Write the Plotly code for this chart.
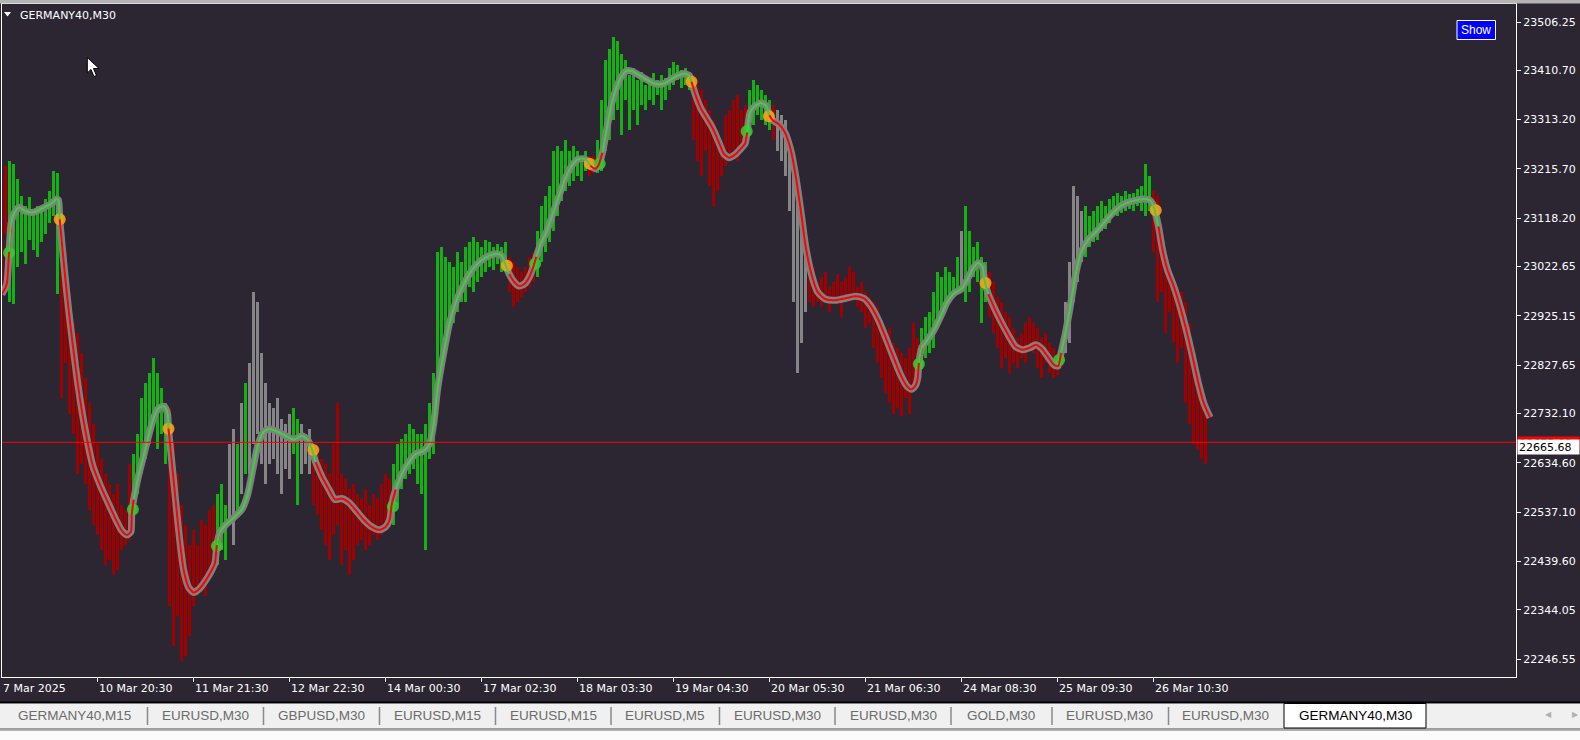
import plotly.graph_objects as go

# ---------------- DATA ----------------
symbol_title = "GERMANY40,M30"

# bar index (every second M30 bar is drawn)
bar_index = list(range(0, 604, 2))

bar_high = [
    23192, 23222, 23232, 23226, 23196, 23162, 23142, 23160, 23136, 23142,
    23132, 23156, 23172, 23212, 23208, 23102, 23052, 22972, 22912, 22892,
    22852, 22802, 22752, 22712, 22672, 22642, 22612, 22592, 22572, 22592,
    22552, 22542, 22632, 22652, 22692, 22762, 22792, 22812, 22842, 22812,
    22782, 22752, 22742, 22672, 22612, 22552, 22512, 22472, 22502, 22472,
    22522, 22512, 22542, 22552, 22572, 22592, 22552, 22672, 22702, 22672,
    22752, 22792, 22832, 22972, 22952, 22852, 22792, 22752, 22742, 22762,
    22722, 22712, 22732, 22742, 22722, 22712, 22692, 22702, 22672, 22652,
    22642, 22632, 22612, 22672, 22752, 22612, 22602, 22582, 22592, 22572,
    22562, 22582, 22552, 22572, 22562, 22592, 22612, 22602, 22632, 22672,
    22682,
    22692, 22712, 22702, 22692, 22692, 22712, 22752, 22812, 23052, 23062,
    23042, 23032, 23022, 23052, 23032, 23062, 23072, 23082, 23072, 23062,
    23076, 23072, 23062, 23068, 23062, 23072, 23042, 23032, 23022, 23012,
    23022, 23042, 23052, 23092, 23142, 23162, 23182, 23252, 23262, 23252,
    23272, 23252, 23262, 23252, 23242, 23252, 23242, 23242, 23272, 23352,
    23432, 23452, 23476, 23468, 23442, 23432, 23402, 23416, 23392, 23408,
    23382, 23396, 23406, 23392, 23402, 23396, 23416, 23428, 23422, 23412,
    23416, 23408, 23402, 23382, 23372, 23352, 23332, 23312, 23292, 23272,
    23322, 23332, 23352, 23362, 23332, 23342, 23372, 23392, 23382, 23372,
    23362, 23352, 23342, 23332, 23322, 23312, 23272, 23212, 23152, 23092,
    23052, 23032, 23022, 22992, 23002, 23012, 22982, 22992, 23008, 22992,
    23002, 23022, 23012, 22982, 22992, 22972, 22962, 22952, 22942, 22912,
    22892, 22902, 22872, 22862, 22852, 22842, 22862, 22912, 22882, 22902,
    22922,
    22932, 22972, 23012, 23002, 23022, 23012, 23002, 23042, 23092, 23142,
    23092, 23062, 23072, 23042, 23032, 23012, 22992, 22962, 22952, 22932,
    22922, 22902, 22882, 22892, 22912, 22922, 22912, 22902, 22882, 22892,
    22872, 22862, 22852, 22882, 22952, 23032, 23182, 23162, 23132, 23142,
    23122, 23132, 23142, 23152, 23142, 23156, 23162, 23168, 23162, 23172,
    23166, 23168, 23176, 23182, 23226, 23202, 23172, 23162, 23072, 23012,
    23002, 22992, 22982, 22972, 22952, 22912, 22852, 22792, 22752, 22732,
]

bar_low = [
    22972, 23088, 22952, 22948, 23022, 23052, 23028, 23076, 23056, 23042,
    23072, 23088, 23108, 23122, 22968, 22762, 22832, 22732, 22692, 22612,
    22632, 22592, 22542, 22512, 22492, 22462, 22432, 22442, 22412, 22422,
    22462, 22472, 22482, 22512, 22572, 22612, 22642, 22672, 22712, 22662,
    22692, 22632, 22352, 22272, 22332, 22242, 22252, 22292, 22352, 22372,
    22392, 22372, 22412, 22432, 22432, 22462, 22442, 22512, 22472, 22532,
    22572, 22612, 22612, 22672, 22692, 22632, 22592, 22632, 22642, 22612,
    22572, 22622, 22602, 22652, 22552, 22612, 22632, 22612, 22552, 22532,
    22502, 22472, 22442, 22492, 22512, 22432, 22462, 22412, 22442, 22472,
    22482, 22462, 22472, 22492, 22482, 22492, 22502, 22522, 22512, 22552,
    22582,
    22602, 22612, 22622, 22592, 22572, 22462, 22642, 22652, 22772, 22852,
    22872, 22892, 22912, 22932, 22952, 22952, 22982, 22972, 22992, 23002,
    23012, 23022, 23016, 23028, 23012, 23022, 22972, 22942, 22952, 22962,
    22972, 22982, 22992, 23002, 23032, 23052, 23072, 23092, 23122, 23152,
    23172, 23182, 23192, 23202, 23192, 23212, 23202, 23208, 23208, 23212,
    23252, 23272, 23312, 23332, 23282, 23352, 23292, 23332, 23302, 23342,
    23332, 23352, 23342, 23362, 23332, 23352, 23372, 23382, 23392, 23376,
    23382, 23372, 23272, 23232, 23202, 23252, 23182, 23142, 23172, 23202,
    23222, 23232, 23252, 23232, 23252, 23262, 23282, 23302, 23322, 23312,
    23302, 23292, 23272, 23252, 23232, 23202, 23132, 22952, 22812, 22872,
    22932, 22952, 22942, 22952, 22942, 22952, 22932, 22952, 22956, 22922,
    22952, 22952, 22962, 22942, 22932, 22902, 22912, 22862, 22832, 22802,
    22772, 22752, 22732, 22742, 22728, 22762, 22732, 22782, 22782, 22822,
    22842,
    22852, 22862, 22912, 22932, 22942, 22952, 22962, 22972, 22982, 22952,
    22972, 23002, 22992, 22912, 22952, 22922, 22892, 22862, 22822, 22842,
    22812, 22832, 22822, 22842, 22832, 22862, 22852, 22822, 22802, 22832,
    22812, 22802, 22808, 22822, 22852, 22872, 22952, 22992, 23032, 23042,
    23062, 23072, 23076, 23092, 23096, 23108, 23122, 23122, 23128, 23132,
    23136, 23132, 23142, 23132, 23122, 23132, 23052, 22952, 22972, 22892,
    22932, 22872, 22832, 22862, 22752, 22712, 22672, 22662, 22642, 22632,
]

# trend state of the bars: run starts (bar index) and state (1 up, -1 down, 0 flat)
state_start_bar = [0, 4, 30, 66, 84, 108, 114, 118, 120, 122, 124, 146, 150, 156,
                   196, 254, 268, 294, 298, 346, 374, 386, 388, 404, 460, 480,
                   482, 494, 532, 542, 576]
state_value = [-1, 1, -1, 1, -1, 1, 0, 1, 0, 1, 0, 1, 0, -1,
               1, -1, 1, -1, 1, -1, 1, -1, 0, -1, 1, 0,
               1, -1, 0, 1, -1]

# smoothed trend line (bar index, price)
line_bar = [0, 2, 2.7, 3.7, 4.7, 6.2, 8.7, 11.8, 15.8, 20.4, 24.5, 27.4, 28.4, 29,
            30.5, 32.5, 34.5, 37, 39.5, 42.6, 45.6, 49.5, 53.6, 57.1, 60.1, 62.6,
            64.6, 65, 66, 68.6, 71.2, 73.7, 76.2, 78.8, 81.3, 82.9, 83.4, 84.9,
            86.9, 89, 91, 93.5, 96, 99, 102, 105, 106.6, 107.6, 109, 112, 116,
            120, 123, 125.6, 128, 131, 134, 138, 142, 146, 150, 153, 155, 157,
            160, 163.6, 166.6, 170, 173.6, 177.6, 181, 185, 189, 192, 194, 195,
            197, 200, 203.6, 207, 211, 214, 216, 218, 221, 224, 227.6, 231.6,
            235.6, 239.6, 243.7, 247.7, 250, 251.7, 253.7, 256.3, 258.8, 261.3,
            263.8, 265.8, 267.3, 269.4, 272.5, 275.6, 278.6, 281.7, 284.7, 287.8,
            290.8, 292.8, 294.3, 296.8, 298.3, 300.4, 302.4, 304.5, 307, 309.5,
            312.6, 315.6, 319.1, 322.7, 326.7, 330.7, 334.3, 337.8, 341.4, 343.9,
            344.9, 346.9, 349.5, 352.5, 355.5, 358.6, 361, 363.6, 366.6, 369.6,
            371.7, 372.7, 374.2, 376.7, 379.8, 382.3, 383.8, 385.5, 388.6, 391.6,
            394.6, 397, 399.6, 402, 405, 408, 412, 417, 422, 427, 431, 434.3,
            438.5, 442, 446, 449.5, 452.6, 455, 457, 458, 458.6, 460, 462.6, 466,
            469.7, 472.7, 476.2, 479.7, 482.7, 485.8, 488.3, 490.4, 491.4, 493.3,
            496.4, 499.9, 503.5, 507, 510.5, 514, 517.1, 520.1, 523.1, 526.2,
            528.2, 529.7, 531.7, 534.2, 536.7, 539.8, 543.3, 547.3, 551.3, 555.4,
            559.4, 563.4, 567.5, 571, 574, 575.5, 576.5, 578.4, 580.4, 582.9, 586,
            589, 592, 595, 598.1, 601.1, 604.2]
line_price = [22968, 22982, 22992, 23052, 23108, 23128, 23140, 23132, 23130, 23138,
              23146, 23156, 23154, 23116, 23052, 22972, 22902, 22822, 22752, 22682,
              22628, 22588, 22552, 22522, 22500, 22492, 22498, 22532, 22562, 22612,
              22652, 22692, 22726, 22744, 22746, 22732, 22702, 22642, 22562, 22482,
              22422, 22388, 22378, 22386, 22402, 22422, 22436, 22472, 22496, 22512,
              22526, 22542, 22572, 22622, 22668, 22696, 22702, 22696, 22688, 22680,
              22688, 22680, 22662, 22636, 22608, 22582, 22562, 22564, 22556, 22538,
              22522, 22508, 22502, 22508, 22522, 22552, 22582, 22612, 22636, 22652,
              22658, 22672, 22712, 22782, 22852, 22912, 22958, 22992, 23018, 23034,
              23044, 23048, 23044, 23028, 23008, 22992, 22984, 22988, 23002, 23022,
              23042, 23066, 23092, 23128, 23162, 23196, 23220, 23234, 23236, 23232,
              23222, 23216, 23222, 23248, 23292, 23336, 23372, 23396, 23410, 23408,
              23400, 23392, 23384, 23384, 23392, 23400, 23404, 23400, 23388, 23362,
              23336, 23316, 23296, 23268, 23246, 23238, 23244, 23256, 23266, 23288,
              23328, 23340, 23346, 23340, 23322, 23312, 23304, 23288, 23252, 23202,
              23132, 23062, 23006, 22972, 22958, 22956, 22960, 22964, 22960, 22946,
              22916, 22882, 22842, 22808, 22786, 22780, 22788, 22802, 22832, 22862,
              22876, 22896, 22926, 22952, 22970, 22978, 22996, 23020, 23030, 23022,
              22996, 22968, 22940, 22912, 22886, 22864, 22858, 22862, 22868, 22860,
              22844, 22828, 22826, 22852, 22888, 22942, 23002, 23052, 23076, 23092,
              23110, 23128, 23142, 23150, 23154, 23156, 23154, 23146, 23134, 23102,
              23056, 23016, 22984, 22946, 22902, 22852, 22796, 22752, 22724]

# trend change signals
signal_bar = [3.7, 29, 65.6, 83.4, 107.6, 155.8, 195.6, 252.6, 266.7, 294, 299,
              344.9, 372.5, 383.6, 458.6, 491.9, 528.7, 577]
signal_price = [23050, 23116, 22542, 22702, 22470, 22660, 22548, 23024, 23028,
                23226, 23226, 23388, 23290, 23320, 22830, 22990, 22838, 23134]
signal_dir = [1, -1, 1, -1, 1, -1, 1, -1, 1, -1, 1, -1, 1, -1, 1, -1, 1, -1]

bid_line_price = 22675.0
bid_label = "22675.08"
value_label_price = 22665.68
value_label = "22665.68"

y_tick_values = [23506.25, 23410.70, 23313.20, 23215.70, 23118.20, 23022.65, 22925.15,
                 22827.65, 22732.10, 22634.60, 22537.10, 22439.60, 22344.05, 22246.55]
x_tick_bars = [0, 48, 96, 144, 192, 240, 288, 336, 384, 432, 480, 528, 576]
x_tick_labels = ["7 Mar 2025", "10 Mar 20:30", "11 Mar 21:30", "12 Mar 22:30",
                 "14 Mar 00:30", "17 Mar 02:30", "18 Mar 03:30", "19 Mar 04:30",
                 "20 Mar 05:30", "21 Mar 06:30", "24 Mar 08:30", "25 Mar 09:30",
                 "26 Mar 10:30"]

tab_names = ["GERMANY40,M15", "EURUSD,M30", "GBPUSD,M30", "EURUSD,M15", "EURUSD,M15",
             "EURUSD,M5", "EURUSD,M30", "EURUSD,M30", "GOLD,M30", "EURUSD,M30",
             "EURUSD,M30", "GERMANY40,M30"]
active_tab = 11

# ---------------- LAYOUT ----------------
W, H = 1580, 740
ML, MR, MT, MB = 2, 64, 4, 63
PW = W - ML - MR
PH = H - MT - MB
X0, X1 = 0.15, 757.15
Y0, Y1 = 22210.95, 23541.85

def px(x):
    return (x - ML) / PW

def py(y):
    return (H - MB - y) / PH

BG = "#2b2632"
FONT = "DejaVu Sans"
COL_STATE = {1: "#13b213", -1: "#a00000", 0: "#858585"}

# bar colors from the state runs
bar_colors = []
for b in bar_index:
    st = state_value[0]
    for s0, sv in zip(state_start_bar, state_value):
        if b >= s0:
            st = sv
    bar_colors.append(COL_STATE[st])

fig = go.Figure()

fig.add_trace(go.Bar(
    x=bar_index,
    base=bar_low,
    y=[h - l for h, l in zip(bar_high, bar_low)],
    width=0.8,
    marker=dict(color=bar_colors, line=dict(width=0)),
    hoverinfo="skip",
    showlegend=False,
))

# gray outer band of the trend line
fig.add_trace(go.Scatter(
    x=line_bar, y=line_price, mode="lines",
    line=dict(color="#808080", width=7, shape="spline", smoothing=0.6),
    hoverinfo="skip", showlegend=False,
))

# signal dots
fig.add_trace(go.Scatter(
    x=signal_bar, y=signal_price, mode="markers",
    marker=dict(size=12, color=["#35c835" if d > 0 else "#f7a21b" for d in signal_dir],
                opacity=0.9, line=dict(width=0)),
    hoverinfo="skip", showlegend=False,
))

# coloured inner line split by signals
bounds = [-1e9] + signal_bar + [1e9]
dirs = [-1] + signal_dir
for k in range(len(bounds) - 1):
    a, b = bounds[k], bounds[k + 1]
    idx = [j for j, xv in enumerate(line_bar) if a <= xv <= b]
    if not idx:
        continue
    if idx[-1] + 1 < len(line_bar):
        idx.append(idx[-1] + 1)
    fig.add_trace(go.Scatter(
        x=[line_bar[j] for j in idx], y=[line_price[j] for j in idx], mode="lines",
        line=dict(color="#3bd23b" if dirs[k] > 0 else "#ff0000", width=2,
                  shape="spline", smoothing=0.6),
        hoverinfo="skip", showlegend=False,
    ))

shapes = []
# bid line
shapes.append(dict(type="line", xref="paper", yref="y", x0=0, x1=1,
                   y0=bid_line_price, y1=bid_line_price,
                   line=dict(color="#ff0000", width=1)))
# top window edge
shapes.append(dict(type="rect", xref="paper", yref="paper", x0=px(0), x1=px(W),
                   y0=py(0), y1=py(3.5), fillcolor="#b4b4b4", line=dict(width=0)))
# bottom tab strip
shapes.append(dict(type="rect", xref="paper", yref="paper", x0=px(0), x1=px(W),
                   y0=py(701.5), y1=py(703.5), fillcolor="#000000", line=dict(width=0)))
shapes.append(dict(type="rect", xref="paper", yref="paper", x0=px(0), x1=px(W),
                   y0=py(703.5), y1=py(728.5), fillcolor="#f0f0f0", line=dict(width=0)))
shapes.append(dict(type="rect", xref="paper", yref="paper", x0=px(0), x1=px(W),
                   y0=py(728.5), y1=py(730.5), fillcolor="#a8a8a8", line=dict(width=0)))
shapes.append(dict(type="rect", xref="paper", yref="paper", x0=px(0), x1=px(W),
                   y0=py(730.5), y1=py(H), fillcolor="#fbfbfb", line=dict(width=0)))

tab_centers = [74, 205, 321, 437, 553, 665, 777, 893, 1001, 1109, 1225, 1355]
tab_seps = [147.5, 263.5, 379.5, 495.5, 611, 719.5, 835, 951, 1052, 1168.5]
for sx in tab_seps:
    shapes.append(dict(type="line", xref="paper", yref="paper", x0=px(sx), x1=px(sx),
                       y0=py(707), y1=py(725), line=dict(color="#8a8a8a", width=1.5)))
shapes.append(dict(type="rect", xref="paper", yref="paper", x0=px(1284), x1=px(1426),
                   y0=py(703.5), y1=py(728), fillcolor="#ffffff",
                   line=dict(color="#000000", width=1)))

# Show button
shapes.append(dict(type="rect", xref="paper", yref="paper", x0=px(1457), x1=px(1495.5),
                   y0=py(39.5), y1=py(20.5), fillcolor="#0000ff",
                   line=dict(color="#ffffff", width=1)))

# title triangle
tri = [(4, 12), (11, 12), (7.5, 16.5)]
shapes.append(dict(type="path", xref="paper", yref="paper",
                   path="M " + " L ".join(f"{px(a):.6f},{py(b):.6f}" for a, b in tri) + " Z",
                   fillcolor="#ffffff", line=dict(width=0)))
# mouse cursor
cur = [(87.3, 57.5), (87.3, 73), (91, 69.5), (94, 76.5), (96.5, 75.5), (93.5, 68.5), (99, 68.5)]
shapes.append(dict(type="path", xref="paper", yref="paper",
                   path="M " + " L ".join(f"{px(a):.6f},{py(b):.6f}" for a, b in cur) + " Z",
                   fillcolor="#ffffff", line=dict(color="#000000", width=1)))

annotations = []
annotations.append(dict(xref="paper", yref="paper", x=px(18), y=py(15), text=symbol_title,
                        showarrow=False, xanchor="left", yanchor="middle",
                        font=dict(family=FONT, size=11, color="#ffffff")))
annotations.append(dict(xref="paper", yref="paper", x=px(1476), y=py(30), text="Show",
                        showarrow=False, xanchor="center", yanchor="middle",
                        font=dict(family="Liberation Sans", size=12, color="#ffffff")))
for xb, lab in zip(x_tick_bars, x_tick_labels):
    annotations.append(dict(xref="x", yref="paper", x=max(xb, X0 + 0.05), y=0, text=lab,
                            showarrow=False,
                            xanchor="left", yanchor="top", xshift=-1, yshift=-3,
                            font=dict(family=FONT, size=11, color="#ffffff")))
# price labels on the right scale
annotations.append(dict(xref="paper", yref="y", x=px(1517), y=bid_line_price,
                        text=bid_label, showarrow=False, xanchor="left", yanchor="middle",
                        bgcolor="#ff0000", width=59, height=11, borderpad=1, align="left",
                        yshift=-1, font=dict(family=FONT, size=11, color="#000000")))
annotations.append(dict(xref="paper", yref="y", x=px(1517), y=value_label_price,
                        text=value_label, showarrow=False, xanchor="left", yanchor="middle",
                        bgcolor="#ffffff", width=59, height=12, borderpad=1, align="left",
                        font=dict(family=FONT, size=11, color="#000000")))
for i, (cx, name) in enumerate(zip(tab_centers, tab_names)):
    annotations.append(dict(xref="paper", yref="paper", x=px(cx), y=py(715.5), text=name,
                            showarrow=False, xanchor="center", yanchor="middle",
                            font=dict(family="Liberation Sans", size=13.5,
                                      color="#000000" if i == active_tab else "#6b6b6b")))
annotations.append(dict(xref="paper", yref="paper", x=px(1548), y=py(714), text="◀",
                        showarrow=False, xanchor="center", yanchor="middle",
                        font=dict(family=FONT, size=8, color="#b0b0b0")))
annotations.append(dict(xref="paper", yref="paper", x=px(1575), y=py(714), text="▶",
                        showarrow=False, xanchor="center", yanchor="middle",
                        font=dict(family=FONT, size=8, color="#b0b0b0")))

fig.update_layout(
    width=W, height=H,
    margin=dict(l=ML, r=MR, t=MT, b=MB, pad=0),
    paper_bgcolor=BG, plot_bgcolor=BG,
    barmode="overlay", bargap=0,
    showlegend=False,
    shapes=shapes, annotations=annotations,
    xaxis=dict(range=[X0, X1], showgrid=False, zeroline=False,
               showline=True, mirror=True, linecolor="#ffffff", linewidth=1,
               ticks="outside", ticklen=4, tickcolor="#ffffff", tickwidth=1,
               tickvals=x_tick_bars, showticklabels=False, fixedrange=True),
    yaxis=dict(range=[Y0, Y1], side="right", showgrid=False, zeroline=False,
               showline=True, mirror=True, linecolor="#ffffff", linewidth=1,
               ticks="outside", ticklen=4, tickcolor="#ffffff", tickwidth=1,
               tickvals=y_tick_values, ticktext=[f"{v:.2f}" for v in y_tick_values],
               tickfont=dict(family=FONT, size=11, color="#ffffff"), fixedrange=True),
)

fig.write_html("out.html", config={"displayModeBar": False},
               post_script="document.body.style.margin='0px';"
                           "document.body.style.overflow='hidden';")
